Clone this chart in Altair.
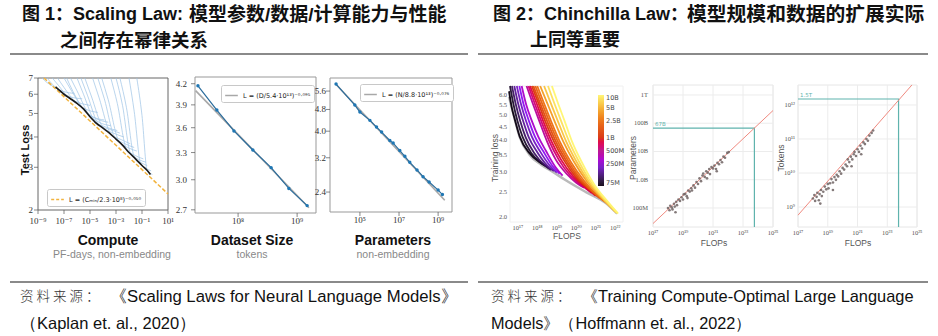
import altair as alt
import pandas as pd

W, H = 938, 336

# ------------------------------------------------------------------
# DATA
# ------------------------------------------------------------------
# Figure 1a: test loss vs compute (log10 PF-days, loss)
CMP_CURVES = [
    [(-8.7, 7.0), (-8.3, 6.7), (-7.8, 6.45), (-7.0, 6.15), (-6.2, 6.05)],
    [(-8.3, 7.0), (-7.9, 6.6), (-7.3, 6.2), (-6.5, 5.85), (-5.6, 5.75)],
    [(-7.9, 7.0), (-7.4, 6.5), (-6.7, 5.85), (-5.9, 5.55), (-5.0, 5.4)],
    [(-7.5, 7.0), (-7.0, 6.4), (-6.1, 5.55), (-5.3, 5.2), (-4.4, 5.05)],
    [(-7.0, 7.0), (-6.5, 6.3), (-5.6, 5.3), (-4.8, 4.85), (-3.9, 4.7)],
    [(-6.5, 7.0), (-6.0, 6.2), (-5.1, 4.97), (-4.3, 4.6), (-3.4, 4.45)],
    [(-6.0, 7.0), (-5.5, 6.0), (-4.6, 4.62), (-3.8, 4.4), (-2.9, 4.25)],
    [(-5.4, 7.0), (-4.9, 5.9), (-4.0, 4.38), (-3.2, 4.15), (-2.4, 4.0)],
    [(-4.8, 7.0), (-4.3, 5.8), (-3.4, 4.12), (-2.6, 3.9), (-1.9, 3.75)],
    [(-4.1, 7.0), (-3.6, 5.7), (-2.8, 3.87), (-2.0, 3.6), (-1.4, 3.5)],
    [(-3.4, 7.0), (-2.9, 5.5), (-2.2, 3.58), (-1.5, 3.35), (-0.9, 3.25)],
    [(-2.7, 7.0), (-2.2, 5.3), (-1.6, 3.32), (-1.0, 3.12), (-0.6, 3.05)],
    [(-2.0, 7.0), (-1.6, 5.1), (-1.1, 3.1), (-0.6, 2.95), (-0.3, 2.9)],
    [(-1.4, 7.0), (-1.0, 4.9), (-0.6, 2.9), (-0.35, 2.83), (-0.2, 2.8)],
    [(-6.8, 7.0), (-6.3, 6.15), (-5.4, 5.12), (-4.5, 4.75), (-3.6, 4.6)],
    [(-5.7, 7.0), (-5.2, 5.95), (-4.3, 4.48), (-3.5, 4.3), (-2.7, 4.15)],
    [(-4.4, 7.0), (-3.9, 5.75), (-3.1, 4.0), (-2.3, 3.75), (-1.6, 3.62)],
    [(-3.0, 7.0), (-2.5, 5.4), (-1.9, 3.45), (-1.2, 3.22), (-0.7, 3.15)],
]
CMP_FRONTIER = [(-7.65, 6.43), (-7.0, 6.0), (-6.5, 5.75), (-6.0, 5.5), (-5.5, 5.22),
                (-5.0, 4.85), (-4.5, 4.55), (-4.0, 4.35), (-3.5, 4.15), (-3.0, 3.92),
                (-2.5, 3.7), (-2.0, 3.45), (-1.5, 3.25), (-1.0, 3.05), (-0.5, 2.87),
                (-0.35, 2.8)]
CMP_FIT = [(-8.54, 7.0), (1.0, 2.33)]
CMP_FIT_LABEL = "L = (Cₘᵢₙ/2.3·10⁸)⁻⁰·⁰⁵⁰"
CMP_XDOM = [1e-9, 10]
CMP_YDOM = [2, 7]
CMP_XTICKS = [1e-9, 1e-7, 1e-5, 1e-3, 1e-1, 1e1]
CMP_XLABELS = ["10⁻⁹", "10⁻⁷", "10⁻⁵", "10⁻³", "10⁻¹", "10¹"]
CMP_YTICKS = [2, 3, 4, 5, 6, 7]
CMP_YLABELS = ["2", "3", "4", "5", "6", "7"]

# Figure 1b: loss vs dataset size (log10 tokens, loss)
DS_LOGX = [7.32, 7.64, 7.93, 8.25, 8.56, 8.86, 9.17]
DS_LOSS = [4.17, 3.83, 3.56, 3.33, 3.13, 2.91, 2.74]
DS_FIT = [(7.28, 4.10), (9.2, 2.72)]
DS_FIT_LABEL = "L = (D/5.4·10¹³)⁻⁰·⁰⁹⁵"
DS_XDOM = [10 ** 7.27, 10 ** 9.32]
DS_YDOM = [2.67, 4.30]
DS_XTICKS = [1e8, 1e9]
DS_XLABELS = ["10⁸", "10⁹"]
DS_YTICKS = [2.7, 3.0, 3.3, 3.6, 3.9, 4.2]
DS_YLABELS = ["2.7", "3.0", "3.3", "3.6", "3.9", "4.2"]

# Figure 1c: loss vs parameters (log10 params, loss)
PR_LOGX = [3.78, 4.74, 5.0, 5.51, 5.85, 6.11, 6.53, 6.70, 7.04, 7.30, 7.55, 7.92,
           8.23, 8.54, 9.0, 9.22]
PR_LOSS = [5.94, 4.98, 4.70, 4.38, 4.14, 3.97, 3.70, 3.62, 3.40, 3.24, 3.08, 2.89,
           2.73, 2.61, 2.44, 2.35]
PR_FIT = [(3.77, 5.93), (9.34, 2.24)]
PR_FIT_LABEL = "L = (N/8.8·10¹³)⁻⁰·⁰⁷⁶"
PR_XDOM = [10 ** 3.47, 10 ** 9.71]
PR_YDOM = [2.03, 6.25]
PR_XTICKS = [1e5, 1e7, 1e9]
PR_XLABELS = ["10⁵", "10⁷", "10⁹"]
PR_YTICKS = [2.4, 3.2, 4.0, 4.8, 5.6]
PR_YLABELS = ["2.4", "3.2", "4.0", "4.8", "5.6"]

# Figure 2a: training loss curves (model params, [(log10 FLOPs, loss)])
TL_CURVES = [
    (7.5e7, [(16.55, 6.2), (16.68, 5.4), (16.85, 4.8), (17.1, 4.12), (17.6, 3.55), (18.1, 3.28), (18.5, 3.15)]),
    (9e7, [(16.6, 6.5), (16.78, 5.5), (16.98, 4.75), (17.25, 4.1), (17.7, 3.55), (18.2, 3.25), (18.6, 3.1)]),
    (1.2e8, [(16.7, 6.5), (16.9, 5.5), (17.12, 4.75), (17.4, 4.1), (17.85, 3.55), (18.35, 3.2), (18.7, 3.05)]),
    (1.6e8, [(16.82, 6.5), (17.03, 5.5), (17.27, 4.75), (17.56, 4.1), (18.0, 3.58), (18.5, 3.18), (18.85, 3.02)]),
    (2e8, [(16.95, 6.5), (17.17, 5.5), (17.42, 4.75), (17.72, 4.12), (18.15, 3.6), (18.65, 3.17), (19.0, 2.98)]),
    (2.5e8, [(17.08, 6.5), (17.3, 5.5), (17.57, 4.75), (17.88, 4.12), (18.3, 3.62), (18.8, 3.15), (19.15, 2.95)]),
    (3.2e8, [(17.2, 6.5), (17.43, 5.5), (17.72, 4.75), (18.05, 4.12), (18.45, 3.62), (18.95, 3.12), (19.3, 2.9)]),
    (4.5e8, [(17.45, 6.5), (17.75, 5.6), (18.1, 4.75), (18.5, 3.95), (18.95, 3.35), (19.5, 2.95), (20.0, 2.72), (20.4, 2.6)]),
    (6e8, [(17.55, 6.5), (17.85, 5.6), (18.2, 4.75), (18.62, 3.95), (19.1, 3.35), (19.7, 2.9), (20.3, 2.65), (20.8, 2.48)]),
    (8e8, [(17.63, 6.5), (17.95, 5.6), (18.3, 4.75), (18.73, 3.95), (19.22, 3.35), (19.85, 2.88), (20.5, 2.6), (21.0, 2.42)]),
    (1e9, [(17.72, 6.5), (18.05, 5.6), (18.4, 4.75), (18.85, 3.95), (19.35, 3.35), (20.0, 2.85), (20.7, 2.55), (21.2, 2.37)]),
    (1.4e9, [(17.8, 6.5), (18.13, 5.6), (18.5, 4.75), (18.95, 3.95), (19.47, 3.33), (20.12, 2.83), (20.85, 2.5), (21.4, 2.32)]),
    (2e9, [(17.9, 6.5), (18.23, 5.6), (18.6, 4.75), (19.05, 3.95), (19.58, 3.32), (20.25, 2.8), (21.0, 2.45), (21.6, 2.27)]),
    (2.6e9, [(18.0, 6.5), (18.33, 5.6), (18.7, 4.75), (19.15, 3.95), (19.7, 3.3), (20.38, 2.78), (21.15, 2.4), (21.8, 2.2)]),
    (4e9, [(18.15, 6.5), (18.5, 5.6), (18.88, 4.75), (19.33, 3.95), (19.87, 3.3), (20.55, 2.75), (21.35, 2.35), (22.0, 2.1)]),
    (6e9, [(18.35, 6.5), (18.68, 5.6), (19.05, 4.75), (19.48, 3.95), (20.0, 3.3), (20.68, 2.72), (21.45, 2.32), (22.05, 2.08)]),
    (8e9, [(18.55, 6.5), (18.86, 5.6), (19.22, 4.75), (19.63, 3.95), (20.13, 3.3), (20.8, 2.7), (21.55, 2.3), (22.1, 2.07)]),
    (1e10, [(18.75, 6.5), (19.05, 5.6), (19.4, 4.75), (19.78, 3.95), (20.26, 3.3), (20.92, 2.68), (21.65, 2.28), (22.15, 2.06)]),
]
TL_ENVELOPE = [(16.55, 5.9), (16.85, 4.8), (17.1, 4.1), (17.6, 3.5), (18.2, 3.2), (18.8, 3.0),
               (19.4, 2.8), (20.5, 2.5), (21.5, 2.27), (22.1, 2.06)]
TL_XDOM = [10 ** 16.6, 10 ** 22.4]
TL_YDOM = [1.91, 6.5]
TL_XTICKS = [1e17, 1e18, 1e19, 1e20, 1e21, 1e22]
TL_XLABELS = ["10¹⁷", "10¹⁸", "10¹⁹", "10²⁰", "10²¹", "10²²"]
TL_YTICKS = [2.0, 2.5, 3.0, 3.5, 4.0, 4.5, 5.0, 5.5, 6.0]
TL_YLABELS = ["2.0", "2.5", "3.0", "3.5", "4.0", "4.5", "5.0", "5.5", "6.0"]
TL_CBAR_VALUES = [7.5e7, 2.5e8, 5e8, 1e9, 2.5e9, 5e9, 1e10]
TL_CBAR_LABELS = ["75M", "250M", "500M", "1B", "2.5B", "5B", "10B"]
TL_CBAR_COLORS = ["#0a0010", "#8a10f0", "#b8108c", "#d8300c", "#ec6a10", "#f6b030", "#fff570"]

# Figure 2b: optimal parameters vs FLOPs (log10 FLOPs, log10 params)
OP_LOGF = [18.0, 18.1, 18.15, 18.25, 18.3, 18.4, 18.45, 18.55, 18.6, 18.7, 18.8, 18.9, 19.0,
           19.05, 19.15, 19.25, 19.35, 19.45, 19.55, 19.6, 19.7, 19.8, 19.9, 20.0, 20.1,
           20.2, 20.3, 20.35, 20.45, 20.55, 20.65, 20.75, 20.8, 20.9, 21.0, 21.1, 21.2,
           21.3, 21.4, 21.5, 21.6, 21.7, 21.8, 21.95, 22.05, 18.5, 19.3, 20.6, 21.25]
OP_LOGP = [8.00, 7.92, 8.08, 8.02, 7.95, 8.15, 8.05, 8.22, 8.10, 8.30, 8.25, 8.38, 8.30,
           8.48, 8.50, 8.42, 8.62, 8.58, 8.70, 8.62, 8.80, 8.72, 8.92, 8.85, 9.05,
           8.95, 9.15, 9.22, 9.10, 9.30, 9.25, 9.38, 9.20, 9.45, 9.40, 9.50, 9.38,
           9.60, 9.55, 9.70, 9.62, 9.82, 9.78, 9.95, 9.98, 7.85, 8.35, 9.05, 9.30]
OP_FIT = [(17.0, 7.45), (25.0, 11.45)]
OP_MARK = [(17.0, 10.83), (23.76, 10.83), (23.76, 7.327)]
OP_MARK_LABEL = "67B"
OP_XDOM = [1e17, 1e25]
OP_YDOM = [10 ** 7.327, 10 ** 12.354]
OP_XTICKS = [1e17, 1e19, 1e21, 1e23, 1e25]
OP_XLABELS = ["10¹⁷", "10¹⁹", "10²¹", "10²³", "10²⁵"]
OP_YTICKS = [1e8, 1e9, 1e10, 1e11, 1e12]
OP_YLABELS = ["100M", "1.0B", "10B", "100B", "1T"]

# Figure 2c: optimal tokens vs FLOPs (log10 FLOPs, log10 tokens)
OT_LOGF = [18.0, 18.1, 18.15, 18.25, 18.3, 18.4, 18.45, 18.55, 18.6, 18.7, 18.8, 18.9, 19.0,
           19.05, 19.15, 19.25, 19.35, 19.45, 19.55, 19.6, 19.7, 19.8, 19.9, 20.0, 20.1,
           20.2, 20.3, 20.35, 20.45, 20.55, 20.65, 20.75, 20.8, 20.9, 21.0, 21.1, 21.2,
           21.3, 21.4, 21.5, 21.6, 21.7, 21.8, 21.95, 22.05, 18.5, 19.35, 20.6, 21.25]
OT_LOGT = [9.25, 9.35, 9.18, 9.30, 9.42, 9.20, 9.38, 9.50, 9.32, 9.45, 9.60, 9.52, 9.68,
           9.55, 9.70, 9.82, 9.72, 9.88, 9.80, 9.95, 9.90, 10.05, 9.98, 10.15, 10.10,
           10.25, 10.20, 10.40, 10.32, 10.48, 10.40, 10.55, 10.62, 10.50, 10.70, 10.62, 10.80,
           10.72, 10.90, 10.85, 11.00, 10.95, 11.10, 11.18, 11.25, 9.10, 9.50, 10.20, 10.55]
OT_FIT = [(17.0, 8.76), (24.66, 12.59)]
OT_MARK = [(17.0, 12.176), (23.76, 12.176), (23.76, 8.412)]
OT_MARK_LABEL = "1.5T"
OT_XDOM = [1e17, 1e25]
OT_YDOM = [10 ** 8.412, 10 ** 12.588]
OT_XTICKS = [1e17, 1e19, 1e21, 1e23, 1e25]
OT_XLABELS = ["10¹⁷", "10¹⁹", "10²¹", "10²³", "10²⁵"]
OT_YTICKS = [1e9, 1e10, 1e11, 1e12]
OT_YLABELS = ["10⁹", "10¹⁰", "10¹¹", "10¹²"]

TITLE1 = ["图 1：Scaling Law:", "模型参数/数据/计算能力与性能", "之间存在幂律关系"]
TITLE2 = ["图 2：Chinchilla Law：", "模型规模和数据的扩展实际", "上同等重要"]
SRC_CN = "资 料 来 源 ："
SRC1 = ["《Scaling Laws for Neural Language Models》", "（Kaplan et. al., 2020）"]
SRC2 = ["《Training Compute-Optimal Large Language", "Models》（Hoffmann et. al., 2022）"]

# ------------------------------------------------------------------
# helpers
# ------------------------------------------------------------------
SERIF = "Liberation Serif, DejaVu Serif, serif"
SANS = "Liberation Sans, Arial, sans-serif"
NARROW = "Liberation Sans Narrow, Arial Narrow, Liberation Sans, sans-serif"
CJK = "Liberation Sans, Noto Sans CJK SC, sans-serif"


def pts_df(points, xlog=True, ylog=False):
    return pd.DataFrame({"i": list(range(len(points))),
                         "x": [10 ** a if xlog else a for a, b in points],
                         "y": [10 ** b if ylog else b for a, b in points]})


def enc(sx, sy):
    X = lambda f, **k: alt.X(f, scale=sx, axis=None, **k)
    Y = lambda f, **k: alt.Y(f, scale=sy, axis=None, **k)
    XD = lambda v: alt.X(datum=v, type="quantitative", scale=sx, axis=None)
    YD = lambda v: alt.Y(datum=v, type="quantitative", scale=sy, axis=None)
    return X, Y, XD, YD


def frame(xdom, ydom, sx, sy, stroke="#999", fill="white"):
    df = pd.DataFrame({"x0": [xdom[0]], "x1": [xdom[1]], "y0": [ydom[0]], "y1": [ydom[1]]})
    return alt.Chart(df).mark_rect(fill=fill, stroke=stroke, strokeWidth=1).encode(
        x=alt.X("x0:Q", scale=sx, axis=None), x2="x1:Q",
        y=alt.Y("y0:Q", scale=sy, axis=None), y2="y1:Q")


def axis_layers(sx, sy, xdom, ydom, xt, xl, yt, yl, font, size, color,
                xpad=3, ypad=4, ticks=True):
    X, Y, XD, YD = enc(sx, sy)
    out = []
    xdf = pd.DataFrame({"v": xt, "l": xl})
    ydf = pd.DataFrame({"v": yt, "l": yl})
    if ticks:
        out.append(alt.Chart(xdf).mark_tick(orient="vertical", size=4, thickness=1, color="#555",
                                            yOffset=2).encode(x=X("v:Q"), y=YD(ydom[0])))
        out.append(alt.Chart(ydf).mark_tick(orient="horizontal", size=4, thickness=1, color="#555",
                                            xOffset=-2).encode(y=Y("v:Q"), x=XD(xdom[0])))
    out.append(alt.Chart(xdf).mark_text(baseline="top", dy=xpad, font=font, fontSize=size,
                                        color=color).encode(x=X("v:Q"), y=YD(ydom[0]), text="l:N"))
    out.append(alt.Chart(ydf).mark_text(align="right", baseline="middle", dx=-ypad, font=font,
                                        fontSize=size, color=color).encode(
        y=Y("v:Q"), x=XD(xdom[0]), text="l:N"))
    return out


def fit_legend(lx, ly, dash=None):
    kw = dict(orient="none", legendX=lx, legendY=ly, title=None, symbolType="stroke",
              symbolStrokeWidth=1.5, symbolSize=160, labelFont="DejaVu Sans", labelFontSize=6.5,
              labelColor="#222", fillColor="white", strokeColor="#c8c8c8", padding=3,
              cornerRadius=2, labelLimit=300)
    if dash:
        kw["symbolDash"] = dash
    return alt.Legend(**kw)


def text(t, x, y, size, font, color="#000", weight="normal", align="left", angle=0):
    return alt.Chart(pd.DataFrame({"t": [t]})).mark_text(
        align=align, baseline="middle", fontSize=size, font=font, fontWeight=weight,
        color=color, angle=angle).encode(x=alt.value(x), y=alt.value(y), text="t:N")


def hrule(x1, x2, y, color="#8a8a8a", width=2):
    return alt.Chart(pd.DataFrame({"a": [0]})).mark_rule(color=color, strokeWidth=width).encode(
        x=alt.value(x1), x2=alt.value(x2), y=alt.value(y))


layers = []

# ------------------------------------------------------------------
# Figure 1a
# ------------------------------------------------------------------
sx = alt.Scale(type="log", domain=CMP_XDOM, range=[38, 168], nice=False)
sy = alt.Scale(type="log", domain=CMP_YDOM, range=[210, 78], nice=False)
X, Y, XD, YD = enc(sx, sy)
cur = pd.concat([pts_df(c).assign(cid=k) for k, c in enumerate(CMP_CURVES)])
fr = pts_df(CMP_FRONTIER)
fit = pts_df(CMP_FIT).assign(name=CMP_FIT_LABEL)
p1 = alt.layer(
    frame(CMP_XDOM, CMP_YDOM, sx, sy, stroke="#666"),
    *axis_layers(sx, sy, CMP_XDOM, CMP_YDOM, CMP_XTICKS, CMP_XLABELS, CMP_YTICKS, CMP_YLABELS,
                 SERIF, 9, "#333", xpad=7, ypad=5),
    alt.Chart(cur).mark_line(color="#9fc5e6", strokeWidth=0.9, opacity=0.8, interpolate="monotone").encode(
        x=X("x:Q"), y=Y("y:Q"), detail="cid:N"),
    alt.Chart(fit).mark_line(strokeDash=[4, 2], strokeWidth=1.5).encode(
        x=X("x:Q"), y=Y("y:Q"),
        color=alt.Color("name:N", scale=alt.Scale(range=["#f2b33d"]),
                        legend=fit_legend(47, 189, dash=[3, 2]))),
    alt.Chart(fr).mark_line(color="#1a1a1a", strokeWidth=1.6, interpolate="monotone").encode(
        x=X("x:Q"), y=Y("y:Q")),
)
layers.append(p1)

# ------------------------------------------------------------------
# Figure 1b
# ------------------------------------------------------------------
sx = alt.Scale(type="log", domain=DS_XDOM, range=[195, 316], nice=False)
sy = alt.Scale(type="log", domain=DS_YDOM, range=[213, 77], nice=False)
X, Y, XD, YD = enc(sx, sy)
dpts = pd.DataFrame({"x": [10 ** v for v in DS_LOGX], "y": DS_LOSS})
fit = pts_df(DS_FIT).assign(name=DS_FIT_LABEL)
p2 = alt.layer(
    frame(DS_XDOM, DS_YDOM, sx, sy),
    *axis_layers(sx, sy, DS_XDOM, DS_YDOM, DS_XTICKS, DS_XLABELS, DS_YTICKS, DS_YLABELS,
                 SERIF, 9, "#333", xpad=4, ypad=8),
    alt.Chart(fit).mark_line(strokeWidth=1.6).encode(
        x=X("x:Q"), y=Y("y:Q"),
        color=alt.Color("name:N", scale=alt.Scale(range=["#a8a8a8"]), legend=fit_legend(221, 85))),
    alt.Chart(dpts).mark_line(color="#2a6c9c", strokeWidth=1.2, point=alt.OverlayMarkDef(
        color="#1f77b4", size=12, filled=True)).encode(x=X("x:Q"), y=Y("y:Q")),
)
layers.append(p2)

# ------------------------------------------------------------------
# Figure 1c
# ------------------------------------------------------------------
sx = alt.Scale(type="log", domain=PR_XDOM, range=[330, 452], nice=False)
sy = alt.Scale(type="log", domain=PR_YDOM, range=[212, 78], nice=False)
X, Y, XD, YD = enc(sx, sy)
ppts = pd.DataFrame({"x": [10 ** v for v in PR_LOGX], "y": PR_LOSS})
fit = pts_df(PR_FIT).assign(name=PR_FIT_LABEL)
p3 = alt.layer(
    frame(PR_XDOM, PR_YDOM, sx, sy),
    *axis_layers(sx, sy, PR_XDOM, PR_YDOM, PR_XTICKS, PR_XLABELS, PR_YTICKS, PR_YLABELS,
                 SERIF, 9, "#333", xpad=4, ypad=4),
    alt.Chart(fit).mark_line(strokeWidth=1.6).encode(
        x=X("x:Q"), y=Y("y:Q"),
        color=alt.Color("name:N", scale=alt.Scale(range=["#a8a8a8"]), legend=fit_legend(360, 84))),
    alt.Chart(ppts).mark_line(color="#2a6c9c", strokeWidth=1.2, point=alt.OverlayMarkDef(
        color="#1f77b4", size=12, filled=True)).encode(x=X("x:Q"), y=Y("y:Q")),
)
layers.append(p3)

# ------------------------------------------------------------------
# Figure 2a
# ------------------------------------------------------------------
sx = alt.Scale(type="log", domain=TL_XDOM, range=[510, 623], nice=False)
sy = alt.Scale(type="log", domain=TL_YDOM, range=[222, 86], nice=False)
X, Y, XD, YD = enc(sx, sy)
tl = pd.concat([pts_df(c).assign(cid=k, size=s) for k, (s, c) in enumerate(TL_CURVES)])
env = pts_df(TL_ENVELOPE)
cbar_expr = "{" + ",".join("'%d':'%s'" % (v, l) for v, l in zip(TL_CBAR_VALUES, TL_CBAR_LABELS)) \
            + "}[format(datum.value,'d')]"
p4 = alt.layer(
    frame(TL_XDOM, TL_YDOM, sx, sy, stroke="#f0f0f0"),
    *axis_layers(sx, sy, TL_XDOM, TL_YDOM, TL_XTICKS, TL_XLABELS, TL_YTICKS, TL_YLABELS,
                 SERIF, 6.5, "#555", xpad=3, ypad=3, ticks=False),
    alt.Chart(env).mark_line(color="#8c8c8c", strokeWidth=2.5, opacity=0.6, interpolate="monotone").encode(
        x=X("x:Q"), y=Y("y:Q")),
    alt.Chart(tl).mark_line(strokeWidth=1.8, opacity=0.95, interpolate="monotone").encode(
        x=X("x:Q"), y=Y("y:Q"), detail="cid:N",
        color=alt.Color("size:Q", scale=alt.Scale(type="log", domain=TL_CBAR_VALUES,
                                                  range=TL_CBAR_COLORS),
                        legend=alt.Legend(orient="none", legendX=598, legendY=95, title=None,
                                          direction="vertical", gradientLength=91,
                                          gradientThickness=6, gradientStrokeWidth=0,
                                          values=TL_CBAR_VALUES, labelExpr=cbar_expr,
                                          labelFont="DejaVu Sans", labelFontSize=6.5,
                                          labelColor="#444", labelOverlap=False, padding=0))),
)
layers.append(p4)


# ------------------------------------------------------------------
# Figure 2b / 2c
# ------------------------------------------------------------------
def opt_panel(logf, logv, fitp, markp, mlabel, xdom, ydom, xt, xl, yt, yl, x0, x1, ypad):
    sx = alt.Scale(type="log", domain=xdom, range=[x0, x1], nice=False)
    sy = alt.Scale(type="log", domain=ydom, range=[227, 85], nice=False)
    X, Y, XD, YD = enc(sx, sy)
    vg = pd.DataFrame({"x": xt})
    hg = pd.DataFrame({"y": yt})
    pts = pd.DataFrame({"x": [10 ** v for v in logf], "y": [10 ** v for v in logv]})
    fit = pts_df(fitp, ylog=True)
    mk = pts_df(markp, ylog=True)
    lab = pd.DataFrame({"x": [10 ** markp[0][0]], "y": [10 ** markp[0][1]], "t": [mlabel]})
    return alt.layer(
        frame(xdom, ydom, sx, sy, stroke="#e6e6e6"),
        alt.Chart(vg).mark_rule(color="#ececec", strokeWidth=1).encode(
            x=X("x:Q"), y=YD(ydom[0]), y2=alt.Y2(datum=ydom[1])),
        alt.Chart(hg).mark_rule(color="#ececec", strokeWidth=1).encode(
            y=Y("y:Q"), x=XD(xdom[0]), x2=alt.X2(datum=xdom[1])),
        *axis_layers(sx, sy, xdom, ydom, xt, xl, yt, yl, SERIF, 6.5, "#555",
                     xpad=3, ypad=ypad, ticks=False),
        alt.Chart(mk).mark_line(color="#5fb3ad", strokeWidth=1.2).encode(x=X("x:Q"), y=Y("y:Q"), order="i:Q"),
        alt.Chart(lab).mark_text(align="left", baseline="bottom", dx=2, dy=-1, fontSize=5.5,
                                 font="DejaVu Sans", color="#5fb3ad").encode(x=X("x:Q"), y=Y("y:Q"), text="t:N"),
        alt.Chart(fit).mark_line(color="#f08a80", strokeWidth=1).encode(x=X("x:Q"), y=Y("y:Q")),
        alt.Chart(pts).mark_point(filled=True, size=7, color="#6e6363", opacity=0.85).encode(
            x=X("x:Q"), y=Y("y:Q")),
    )


layers.append(opt_panel(OP_LOGF, OP_LOGP, OP_FIT, OP_MARK, OP_MARK_LABEL, OP_XDOM, OP_YDOM,
                        OP_XTICKS, OP_XLABELS, OP_YTICKS, OP_YLABELS, 653, 773, 5))
layers.append(opt_panel(OT_LOGF, OT_LOGT, OT_FIT, OT_MARK, OT_MARK_LABEL, OT_XDOM, OT_YDOM,
                        OT_XTICKS, OT_XLABELS, OT_YTICKS, OT_YLABELS, 798, 917, 3))

# ------------------------------------------------------------------
# titles, axis captions, rules, sources
# ------------------------------------------------------------------
GREY = "#555"
layers += [
    text(TITLE1[0], 22, 15, 18, CJK, "#111", "bold"),
    text(TITLE1[1], 189, 15, 19, CJK, "#111", "bold"),
    text(TITLE1[2], 60, 41, 18.5, CJK, "#111", "bold"),
    text(TITLE2[0], 493, 15, 18, CJK, "#111", "bold"),
    text(TITLE2[1], 687, 15, 19.8, CJK, "#111", "bold"),
    text(TITLE2[2], 530, 41, 18, CJK, "#111", "bold"),
    hrule(10, 468, 54), hrule(478, 928, 54),
    # axis captions
    text("Test Loss", 26, 150, 11, SANS, "#111", "bold", align="center", angle=270),
    text("Compute", 108, 241, 14, NARROW, "#111", "bold", align="center"),
    text("PF-days, non-embedding", 112, 255, 10.5, NARROW, "#888", align="center"),
    text("Dataset Size", 252, 241, 14, NARROW, "#111", "bold", align="center"),
    text("tokens", 252, 255, 10.5, NARROW, "#888", align="center"),
    text("Parameters", 393, 241, 14, NARROW, "#111", "bold", align="center"),
    text("non-embedding", 393, 255, 10.5, NARROW, "#888", align="center"),
    text("Training loss", 495, 158, 8.5, SANS, GREY, align="center", angle=270),
    text("FLOPS", 567, 236, 8.5, SANS, GREY, align="center"),
    text("Parameters", 633, 158, 8.5, SANS, GREY, align="center", angle=270),
    text("FLOPs", 714, 243, 8.5, SANS, GREY, align="center"),
    text("Tokens", 781, 158, 8.5, SANS, GREY, align="center", angle=270),
    text("FLOPs", 858, 243, 8.5, SANS, GREY, align="center"),
    # sources
    hrule(10, 468, 282), hrule(478, 928, 282),
    text(SRC_CN, 20, 297, 13.5, "Noto Sans CJK SC", "#333", 300),
    text(SRC1[0], 110, 297, 16.7, NARROW, "#111"),
    text(SRC1[1], 20, 324, 16.5, NARROW, "#111"),
    text(SRC_CN, 491, 297, 13.5, "Noto Sans CJK SC", "#333", 300),
    text(SRC2[0], 582, 297, 16.4, NARROW, "#111"),
    text(SRC2[1], 491, 324, 16.3, NARROW, "#111"),
]

chart = alt.layer(*layers).resolve_scale(
    x="independent", y="independent", color="independent"
).resolve_legend(color="independent").properties(
    width=W, height=H, padding=0, autosize=alt.AutoSizeParams(type="none"), background="white"
).configure_view(stroke=None)

chart.save("out.html", embed_options={"renderer": "svg", "actions": False})
